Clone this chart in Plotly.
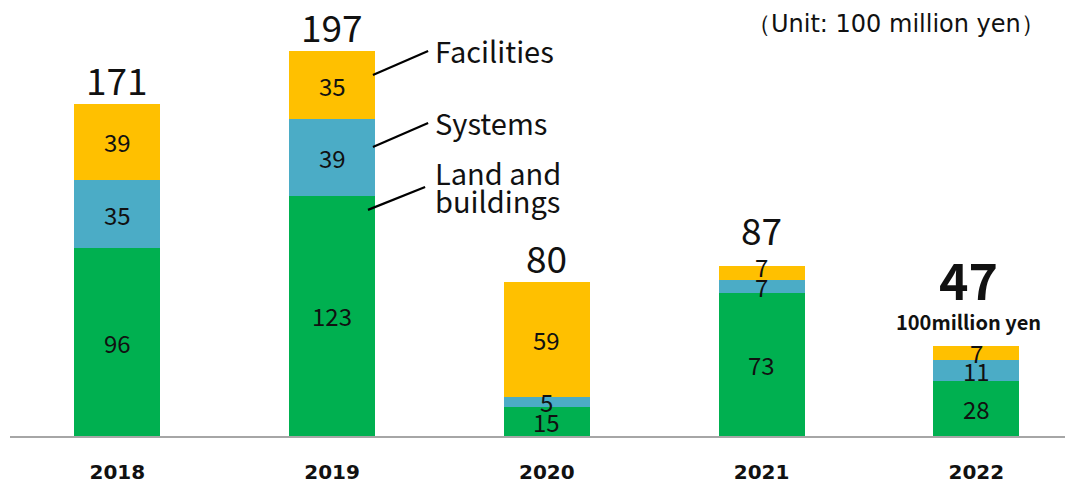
import plotly.graph_objects as go

FONT = "Noto Sans CJK JP"
TICK_FONT = "DejaVu Sans"
TEXT_COL = "#111111"

GREEN = "#00B050"
BLUE = "#4BACC6"
YELLOW = "#FFC000"

# ── Data (100 million yen) ────────────────────────────────────────────────────
years = ["2018", "2019", "2020", "2021", "2022"]
land = [96, 123, 15, 73, 28]
systems = [35, 39, 5, 7, 11]
facilities = [39, 35, 59, 7, 7]
totals = [171, 197, 80, 87, 47]

series = [
    ("Land and buildings", land, GREEN),
    ("Systems", systems, BLUE),
    ("Facilities", facilities, YELLOW),
]

fig = go.Figure()
for name, vals, col in series:
    fig.add_trace(go.Bar(
        x=years, y=vals, name=name, marker=dict(color=col, line=dict(width=0)),
        width=0.4, hoverinfo="y",
    ))

# segment labels, centred in each segment
base = [0] * len(years)
for name, vals, col in series:
    for i, v in enumerate(vals):
        # the thin top segment of 2021 has its label nudged up, as in the original
        shift = 6 if (i == 3 and name == "Facilities") else 0
        fig.add_annotation(
            x=i, y=base[i] + v / 2, yshift=shift, text=str(v), showarrow=False,
            font=dict(family=FONT, size=24, color=TEXT_COL),
        )
        base[i] += v

# totals above bars
for i, t in enumerate(totals):
    top = base[i]
    if i == len(years) - 1:
        fig.add_annotation(
            x=i, y=top, xshift=-8, yshift=8, text="<b>100million yen</b>", showarrow=False,
            yanchor="bottom", font=dict(family=FONT, size=20, color=TEXT_COL),
        )
        fig.add_annotation(
            x=i, y=top, xshift=-8, yshift=30, text=f"<b>{t}</b>", showarrow=False,
            yanchor="bottom", font=dict(family=FONT, size=50, color=TEXT_COL),
        )
    else:
        fig.add_annotation(
            x=i, y=top, yshift=8 if i == 3 else -4, text=str(t), showarrow=False,
            yanchor="bottom", font=dict(family=FONT, size=37, color=TEXT_COL),
        )

# legend callouts next to the 2019 bar
callout_lines = [
    ((1.19, 184.7), (1.447, 197.0)),
    ((1.19, 147.9), (1.447, 160.2)),
    ((1.167, 115.7), (1.433, 127.4)),
]
for (x0, y0), (x1, y1) in callout_lines:
    fig.add_shape(type="line", x0=x0, y0=y0, x1=x1, y1=y1, xref="x", yref="y",
                  line=dict(color="black", width=2.2))

callout_text = [("Facilities", 197.5), ("Systems", 160.7),
                ("Land and", 135.1), ("buildings", 120.8)]
for label, ty in callout_text:
    fig.add_annotation(
        x=1.47, y=ty, text=label, showarrow=False, xanchor="left",
        font=dict(family=FONT, size=29, color=TEXT_COL),
    )

fig.add_annotation(
    x=0.6914, y=1.0, xref="paper", yref="paper", text="（Unit: 100 million yen）",
    showarrow=False, xanchor="left", yanchor="top",
    font=dict(family="DejaVu Sans", size=24, color=TEXT_COL),
)

fig.update_layout(
    barmode="stack",
    width=1073, height=482,
    margin=dict(l=2, r=8, t=0, b=54),
    paper_bgcolor="white", plot_bgcolor="white",
    showlegend=False,
    font=dict(family=FONT, color=TEXT_COL),
    xaxis=dict(
        range=[-0.5, 4.45], showline=True, linecolor="#A6A6A6", linewidth=1.5,
        showgrid=False, ticks="", ticklabelstandoff=17,
        tickfont=dict(family=TICK_FONT, size=20, color=TEXT_COL),
        tickprefix="<b>", ticksuffix="</b>",
    ),
    yaxis=dict(range=[0, 219], visible=False),
)

# small ticks between categories
for k in range(len(years)):
    fig.add_shape(type="line", x0=k - 0.5, x1=k - 0.5, y0=0, y1=-2.5, xref="x", yref="y",
                  line=dict(color="#A6A6A6", width=1.5))

fig.write_html("out.html")
